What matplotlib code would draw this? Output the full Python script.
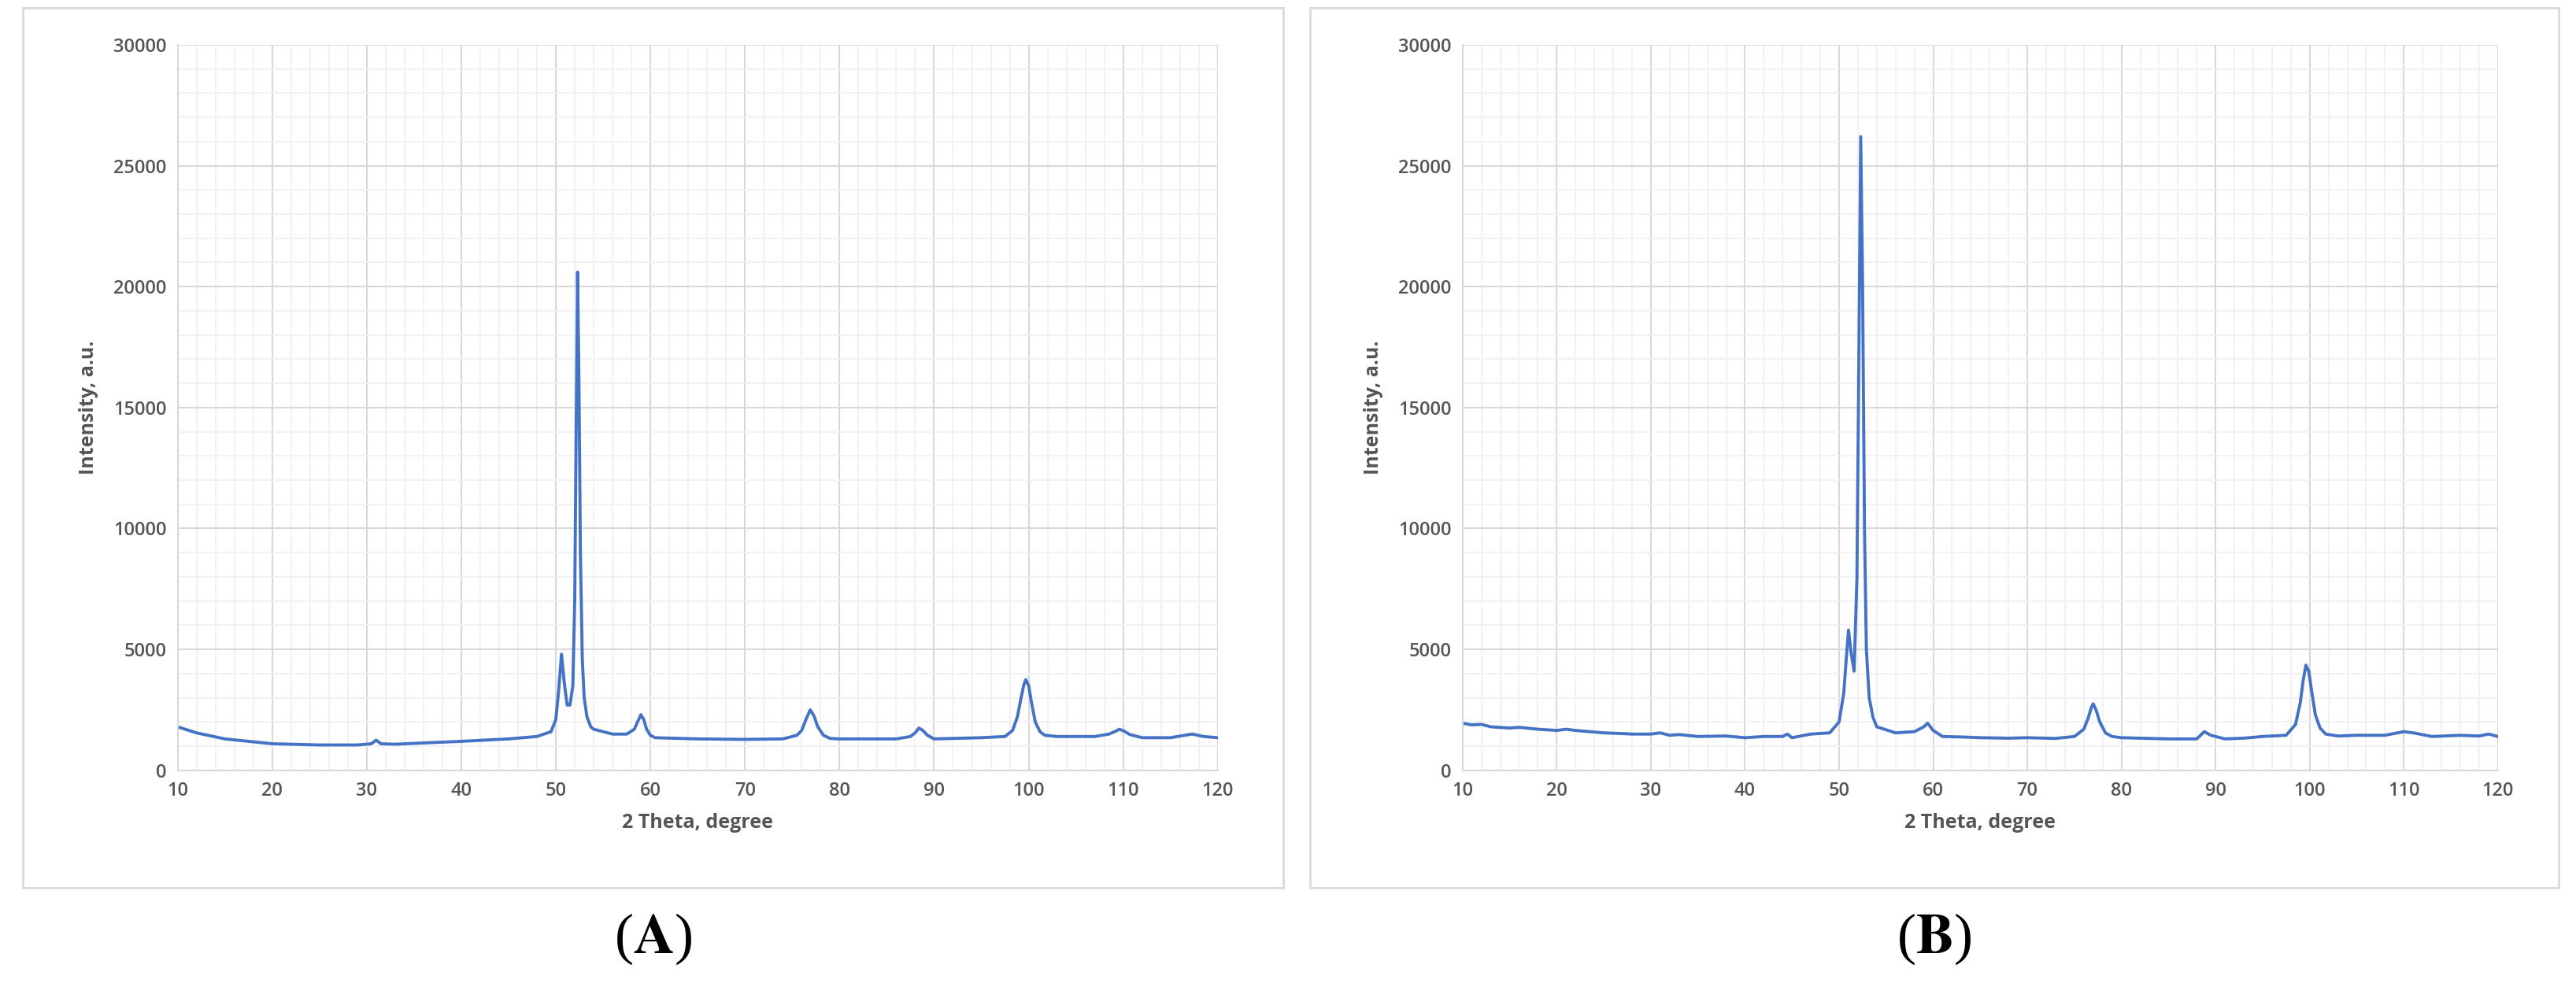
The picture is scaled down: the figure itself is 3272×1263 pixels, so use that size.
import matplotlib
matplotlib.use("Agg")
import matplotlib.pyplot as plt
from matplotlib.patches import Rectangle
from matplotlib.ticker import MultipleLocator

xa = [10,12,15,20,25,29,30.5,31,31.5,33,40,45,48,49.5,50.0,50.3,50.6,50.9,51.2,51.5,51.8,52.0,52.15,52.3,52.45,52.6,52.8,53.0,53.3,53.7,54,56,57.5,58.3,58.7,59.0,59.3,59.6,60.0,60.5,65,70,74,75.5,76.0,76.5,76.9,77.3,77.7,78.3,79,80,86,87.5,88.0,88.4,88.8,89.3,90,95,97.5,98.3,98.8,99.2,99.5,99.7,100.0,100.3,100.7,101.2,101.7,103,107,108.5,109.2,109.6,110.1,110.7,112,115,116.5,117.3,118.5,120]
ya = [1800,1550,1300,1100,1050,1050,1100,1250,1100,1080,1200,1300,1400,1600,2100,3300,4800,3600,2700,2700,3500,7000,14000,20600,16000,9000,4600,3000,2200,1800,1700,1500,1500,1700,2050,2300,2100,1700,1450,1350,1300,1280,1300,1450,1650,2150,2500,2250,1800,1450,1320,1300,1300,1400,1550,1750,1650,1450,1300,1350,1400,1650,2200,3000,3550,3750,3500,2800,2000,1600,1450,1400,1400,1500,1620,1700,1620,1480,1350,1350,1450,1500,1400,1350]

xb = [10,11,12,13,15,16,18,20,21,22,25,27,28,30,31,32,33,35,38,40,42,44,44.5,45,47,49,50,50.5,50.8,51.0,51.3,51.6,51.9,52.1,52.3,52.5,52.7,52.9,53.2,53.6,54,56,58,59,59.4,60,61,63,65,68,70,73,75,76,76.5,76.8,77.0,77.3,77.7,78.3,79,80,83,85,88,88.8,89.5,91,93,95,97.5,98.5,99.0,99.3,99.6,99.9,100.2,100.6,101.1,101.7,103,105,108,110,111,113,116,118,119,120]
yb = [1950,1880,1900,1800,1750,1780,1700,1650,1700,1650,1550,1520,1500,1500,1550,1450,1480,1400,1420,1350,1400,1400,1500,1350,1500,1550,2000,3200,4800,5800,4800,4100,8000,17000,26200,20000,10000,5000,3000,2200,1800,1550,1600,1800,1950,1650,1400,1380,1350,1330,1350,1320,1400,1700,2200,2600,2750,2500,2000,1550,1400,1350,1320,1300,1300,1600,1450,1300,1330,1400,1450,1900,2800,3700,4350,4100,3300,2300,1750,1500,1420,1450,1450,1600,1550,1400,1450,1420,1500,1400]

panels = [("A", xa, ya, 0.0689, 0.4726, 0.0089, 0.4981), ("B", xb, yb, 0.5676, 0.9694, 0.5083, 0.9930)]

fig = plt.figure(figsize=(32.73, 12.63), dpi=100)
txt = "#555555"
for lab, x, y, l, r, fl, fr in panels:
    fig.add_artist(Rectangle((fl, 0.107), fr - fl, 0.885, transform=fig.transFigure,
                             fill=False, edgecolor="#d9d9d9", lw=2))
    ax = fig.add_axes([l, 0.225, r - l, 0.730])
    ax.plot(x, y, color="#4472C4", lw=2.8)
    ax.set_xlim(10, 120)
    ax.set_ylim(0, 30000)
    ax.xaxis.set_major_locator(MultipleLocator(10))
    ax.xaxis.set_minor_locator(MultipleLocator(2))
    ax.yaxis.set_major_locator(MultipleLocator(5000))
    ax.yaxis.set_minor_locator(MultipleLocator(1000))
    ax.grid(which="major", color="#d9d9d9", lw=1.5)
    ax.grid(which="minor", color="#eef0f4", lw=1.2)
    ax.set_axisbelow(True)
    for s in ["top", "right"]:
        ax.spines[s].set_visible(False)
    for s in ["left", "bottom"]:
        ax.spines[s].set_color("#d9d9d9")
        ax.spines[s].set_linewidth(1.5)
    ax.tick_params(which="both", length=0, labelsize=17, labelcolor=txt, pad=10)
    for t in ax.get_xticklabels() + ax.get_yticklabels():
        t.set_fontfamily("Open Sans")
        t.set_fontweight("semibold")
    ax.set_xlabel("2 Theta, degree", fontsize=18, fontweight="bold", color=txt,
                  family="Open Sans", labelpad=12)
    ax.set_ylabel("Intensity, a.u.", fontsize=18, fontweight="bold", color=txt,
                  family="Open Sans", labelpad=14)
    fig.text((fl + fr) / 2, 0.055, "(" + r"$\mathbf{" + lab + "}$" + ")", ha="center",
             va="center", fontsize=52, family="Liberation Serif",
             math_fontfamily="stix")

fig.savefig("out.png", dpi=100)
